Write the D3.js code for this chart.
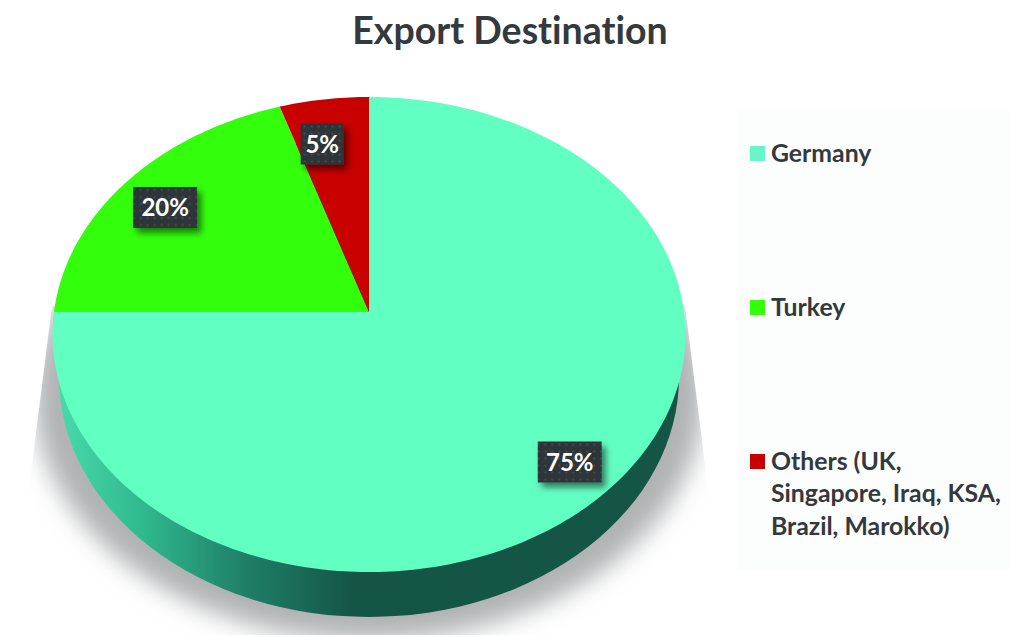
<!DOCTYPE html>
<html><head><meta charset="utf-8">
<script src="https://cdn.jsdelivr.net/npm/d3@7/dist/d3.min.js"></script>
<style>html,body{margin:0;padding:0;background:#fff}svg{display:block}text{font-family:Lato,"Open Sans",sans-serif;font-weight:700;font-variant-ligatures:none}</style>
</head><body><svg id="c" width="1024" height="638"></svg>
<script>
const categories = ["Germany", "Turkey", "Others (UK, Singapore, Iraq, KSA, Brazil, Marokko)"];
const values = [75, 20, 5];
const labels = ["75%", "20%", "5%"];
const legendLines = [["Germany"], ["Turkey"], ["Others (UK,", "Singapore, Iraq, KSA,", "Brazil, Marokko)"]];
const colors = ["#62ffc2", "#33ff0d", "#c80000"];
const swatchColors = ["#68f5c8", "#33ff0d", "#c80000"];

const svg = d3.select("#c");
const W = 1024, H = 638;
const cx = 369, cy = 312, A = 315, B = 235.4, persp = -0.0947;
// perspective projection of the pie plane
function project(angle, k = 1) {
  const u = Math.sin(angle) * k, v = -Math.cos(angle) * k;
  const w = 1 + persp * v;
  return [cx + A * u / w, cy + B * v / w];
}
const pie = d3.pie().sort(null).value(d => d);
const arcs = pie(values);
function slicePath(a) {
  const n = Math.max(8, Math.ceil((a.endAngle - a.startAngle) * 60));
  const pts = d3.range(n + 1).map(i => project(a.startAngle + (a.endAngle - a.startAngle) * i / n));
  return d3.line()([[cx, cy], ...pts]) + "Z";
}

const defs = svg.append("defs");
defs.append("filter").attr("id", "blurBig").attr("x", "-20%").attr("y", "-20%").attr("width", "140%").attr("height", "140%")
  .append("feGaussianBlur").attr("stdDeviation", 12);
const ds = defs.append("filter").attr("id", "boxShadow").attr("x", "-30%").attr("y", "-30%").attr("width", "170%").attr("height", "170%");
ds.append("feDropShadow").attr("dx", 4).attr("dy", 5).attr("stdDeviation", 3).attr("flood-color", "#000").attr("flood-opacity", .5);
const pat = defs.append("pattern").attr("id", "dots").attr("width", 7).attr("height", 7).attr("patternUnits", "userSpaceOnUse");
pat.append("rect").attr("width", 7).attr("height", 7).attr("fill", "#2f3538");
pat.append("circle").attr("cx", 3.5).attr("cy", 3.5).attr("r", 1.1).attr("fill", "#465056");
const grad = defs.append("linearGradient").attr("id", "wall").attr("gradientUnits", "userSpaceOnUse")
  .attr("x1", 55).attr("x2", 690).attr("y1", 0).attr("y2", 0);
[[0, "#48dcaa"], [.14, "#2fb88e"], [.3, "#1f7f67"], [.47, "#145546"], [1, "#145546"]].forEach(s =>
  grad.append("stop").attr("offset", s[0]).attr("stop-color", s[1]));
defs.append("clipPath").attr("id", "shadowClip").append("path")
  .attr("d", d3.line()([[52, 306], [685, 306], [717, 560], [790, 635], [-50, 635], [20, 560]]) + "Z");

// legend panel
svg.append("rect").attr("x", 737).attr("y", 108).attr("width", 273).attr("height", 462).attr("fill", "#fcfdfd");

// cast shadow
svg.append("g").attr("clip-path", "url(#shadowClip)")
  .append("ellipse").attr("cx", 369).attr("cy", 395).attr("rx", 335).attr("ry", 245)
  .attr("fill", "#b0b2b4").attr("filter", "url(#blurBig)");

// side wall
svg.append("ellipse").attr("cx", 369).attr("cy", 377).attr("rx", 310).attr("ry", 240).attr("fill", "url(#wall)");

// top face
svg.append("g").selectAll("path").data(arcs).join("path")
  .attr("d", slicePath).attr("fill", (d, i) => colors[i]);

// title
svg.append("text").attr("x", 510).attr("y", 44).attr("text-anchor", "middle")
  .attr("font-size", 37.5).attr("fill", "#33393c").text("Export Destination");

// value labels
const labelRadius = [.85, .82, .78];
const labelNudge = [[0, 0], [-4, 4], [-11, 1]];
const boxW = [64, 64, 43], boxH = 41;
const lab = svg.append("g").selectAll("g").data(arcs).join("g").attr("transform", (d, i) => {
  const p = project((d.startAngle + d.endAngle) / 2, labelRadius[i]);
  return `translate(${p[0] + labelNudge[i][0]},${p[1] + labelNudge[i][1]})`;
});
lab.append("rect").attr("x", (d, i) => -boxW[i] / 2).attr("y", -boxH / 2).attr("width", (d, i) => boxW[i]).attr("height", boxH)
  .attr("fill", "url(#dots)").attr("filter", "url(#boxShadow)");
lab.append("text").attr("text-anchor", "middle").attr("y", 9).attr("font-size", 24).attr("fill", "#fff").text((d, i) => labels[i]);

// legend
const legendY = d3.scalePoint().domain(categories).range([161, 469]);
const leg = svg.append("g").selectAll("g").data(categories).join("g")
  .attr("transform", d => `translate(750,${legendY(d)})`);
leg.append("rect").attr("y", -15).attr("width", 15).attr("height", 15).attr("fill", (d, i) => swatchColors[i]);
leg.append("text").attr("x", 21).attr("font-size", 24.8).attr("fill", "#33393c").each(function (d, i) {
  d3.select(this).selectAll("tspan").data(legendLines[i]).join("tspan")
    .attr("x", 21).attr("y", (l, j) => j * 32.5 + .5).text(l => l);
});
</script></body></html>
